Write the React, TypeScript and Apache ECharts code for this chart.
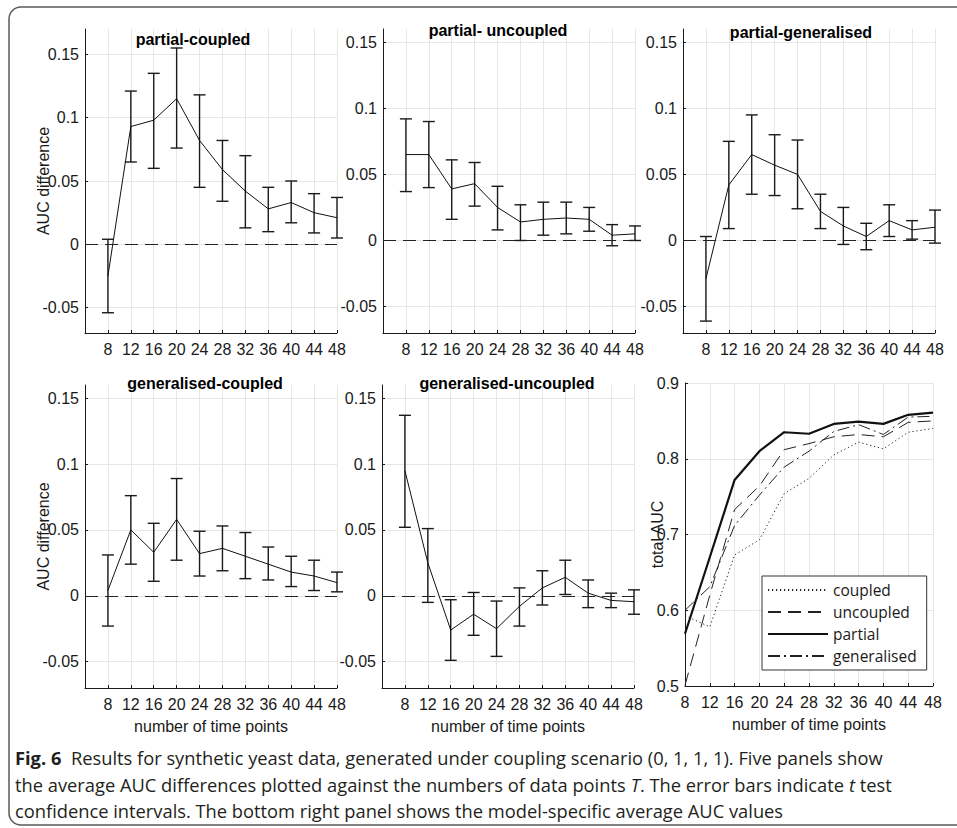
import React, { useEffect, useRef } from 'react';
import * as echarts from 'echarts';

// ---------- data ----------
const timePoints = [8, 12, 16, 20, 24, 28, 32, 36, 40, 44, 48];
const yTicksDiff = [-0.05, 0, 0.05, 0.1, 0.15];
const yTicksTotal = [0.5, 0.6, 0.7, 0.8, 0.9];

const panelTitles = ['partial-coupled', 'partial- uncoupled', 'partial-generalised', 'generalised-coupled', 'generalised-uncoupled'];

const pcMean = [-0.025, 0.093, 0.098, 0.115, 0.082, 0.059, 0.042, 0.028, 0.033, 0.025, 0.021];
const pcUpper = [0.004, 0.121, 0.135, 0.155, 0.118, 0.082, 0.070, 0.045, 0.050, 0.040, 0.037];
const pcLower = [-0.054, 0.065, 0.060, 0.076, 0.045, 0.034, 0.013, 0.010, 0.017, 0.009, 0.005];

const puMean = [0.065, 0.065, 0.039, 0.043, 0.025, 0.014, 0.016, 0.017, 0.016, 0.004, 0.005];
const puUpper = [0.092, 0.090, 0.061, 0.059, 0.041, 0.027, 0.029, 0.029, 0.025, 0.012, 0.011];
const puLower = [0.037, 0.040, 0.016, 0.026, 0.008, 0.000, 0.004, 0.005, 0.007, -0.004, 0.000];

const pgMean = [-0.029, 0.042, 0.065, 0.057, 0.050, 0.022, 0.011, 0.003, 0.015, 0.008, 0.010];
const pgUpper = [0.003, 0.075, 0.095, 0.080, 0.076, 0.035, 0.025, 0.013, 0.027, 0.015, 0.023];
const pgLower = [-0.061, 0.009, 0.035, 0.034, 0.024, 0.009, -0.003, -0.007, 0.003, 0.001, -0.002];

const gcMean = [0.004, 0.050, 0.033, 0.058, 0.032, 0.036, 0.030, 0.024, 0.018, 0.015, 0.010];
const gcUpper = [0.031, 0.076, 0.055, 0.089, 0.049, 0.053, 0.048, 0.037, 0.030, 0.027, 0.018];
const gcLower = [-0.023, 0.024, 0.011, 0.027, 0.015, 0.019, 0.013, 0.012, 0.007, 0.004, 0.003];

const guMean = [0.095, 0.025, -0.026, -0.014, -0.025, -0.008, 0.006, 0.014, 0.002, -0.0035, -0.0045];
const guUpper = [0.137, 0.051, -0.003, 0.0025, -0.004, 0.006, 0.019, 0.027, 0.012, 0.002, 0.0045];
const guLower = [0.052, -0.005, -0.049, -0.030, -0.046, -0.023, -0.007, 0.001, -0.009, -0.009, -0.014];

const totalNames = ['coupled', 'uncoupled', 'partial', 'generalised'];
const totalCoupled = [0.593, 0.578, 0.673, 0.693, 0.754, 0.774, 0.805, 0.822, 0.813, 0.835, 0.840];
const totalUncoupled = [0.501, 0.620, 0.733, 0.764, 0.812, 0.820, 0.829, 0.832, 0.829, 0.848, 0.850];
const totalPartial = [0.569, 0.670, 0.772, 0.810, 0.835, 0.833, 0.846, 0.849, 0.846, 0.858, 0.861];
const totalGeneralised = [0.600, 0.631, 0.712, 0.752, 0.789, 0.810, 0.836, 0.845, 0.832, 0.855, 0.856];

const captionLines = [
  '{b|Fig. 6}  Results for synthetic yeast data, generated under coupling scenario (0, 1, 1, 1). Five panels show',
  'the average AUC differences plotted against the numbers of data points {i|T}. The error bars indicate {i|t} test',
  'confidence intervals. The bottom right panel shows the model-specific average AUC values',
];

// ---------- styling ----------
const FONT = '"Liberation Sans", Arial, sans-serif';
const AX = '#1a1a1a';
const GRID = '#e6e6e6';

const diffPanels = [
  { mean: pcMean, lower: pcLower, upper: pcUpper, yMax: 0.17 },
  { mean: puMean, lower: puLower, upper: puUpper, yMax: 0.16 },
  { mean: pgMean, lower: pgLower, upper: pgUpper, yMax: 0.16 },
  { mean: gcMean, lower: gcLower, upper: gcUpper, yMax: 0.16 },
  { mean: guMean, lower: guLower, upper: guUpper, yMax: 0.16 },
];

const grids = [
  { left: 85, top: 29, width: 252, height: 304 },
  { left: 383, top: 29, width: 252, height: 304 },
  { left: 683, top: 29, width: 252, height: 304 },
  { left: 85, top: 385, width: 252, height: 303 },
  { left: 382, top: 385, width: 252, height: 303 },
  { left: 685, top: 383, width: 248, height: 303 },
];

const titlePos = [
  [193, 39], [498, 30], [801, 32], [205, 383], [507, 383],
];

function xAxisCfg(gridIndex: number, min: number, max: number, showName: boolean) {
  return {
    type: 'value', gridIndex, min, max,
    axisLine: { show: true, onZero: false, lineStyle: { color: AX, width: 1 } },
    axisTick: { show: true, inside: true, length: 3, customValues: timePoints, lineStyle: { color: AX } },
    axisLabel: { customValues: timePoints, fontSize: 16, fontFamily: FONT, color: AX, margin: 8 },
    splitLine: { show: true, lineStyle: { color: GRID, width: 1 } },
    name: showName ? 'number of time points' : '',
    nameLocation: 'middle', nameGap: 30, nameMoveOverlap: false,
    nameTextStyle: { fontSize: 16, fontFamily: FONT, color: AX },
  };
}

function yAxisCfg(gridIndex: number, min: number, max: number, ticks: number[], name: string, nameGap: number) {
  return {
    type: 'value', gridIndex, min, max,
    axisLine: { show: true, onZero: false, lineStyle: { color: AX, width: 1 } },
    axisTick: { show: true, inside: true, length: 3, customValues: ticks, lineStyle: { color: AX } },
    axisLabel: { customValues: ticks, fontSize: 16, fontFamily: FONT, color: AX, margin: 6 },
    splitLine: { show: true, lineStyle: { color: GRID, width: 1 } },
    name, nameLocation: 'middle', nameGap, nameMoveOverlap: false,
    nameTextStyle: { fontSize: 16, fontFamily: FONT, color: AX },
  };
}

function errorBarSeries(idx: number, lower: number[], upper: number[]) {
  return {
    type: 'custom',
    xAxisIndex: idx, yAxisIndex: idx,
    silent: true, z: 3,
    encode: { x: 0, y: [1, 2] },
    data: timePoints.map((t, i) => [t, lower[i], upper[i]]),
    renderItem: (_params: any, api: any) => {
      const x = api.value(0);
      const lo = api.coord([x, api.value(1)]);
      const hi = api.coord([x, api.value(2)]);
      const w = 6;
      const style = { stroke: '#1a1a1a', lineWidth: 1.4, fill: null };
      return {
        type: 'group',
        children: [
          { type: 'line', shape: { x1: lo[0], y1: lo[1], x2: hi[0], y2: hi[1] }, style },
          { type: 'line', shape: { x1: lo[0] - w, y1: lo[1], x2: lo[0] + w, y2: lo[1] }, style },
          { type: 'line', shape: { x1: hi[0] - w, y1: hi[1], x2: hi[0] + w, y2: hi[1] }, style },
        ],
      };
    },
  };
}

function meanSeries(idx: number, mean: number[]) {
  return {
    type: 'line',
    xAxisIndex: idx, yAxisIndex: idx,
    silent: true, symbol: 'none', z: 4,
    data: timePoints.map((t, i) => [t, mean[i]]),
    lineStyle: { color: '#111', width: 1 },
    markLine: {
      silent: true, symbol: 'none',
      label: { show: false },
      lineStyle: { color: '#222', type: [13, 7], width: 1.2 },
      data: [{ yAxis: 0 }],
    },
  };
}

const totalSeriesData = [totalCoupled, totalUncoupled, totalPartial, totalGeneralised];
const totalLineStyles = [
  { color: '#222', width: 1, type: [1.2, 2.8] },
  { color: '#222', width: 1, type: [13, 7] },
  { color: '#111', width: 2.2, type: 'solid' },
  { color: '#222', width: 1, type: [12, 4, 2, 4] },
];

function buildOption() {
  const xAxis: any[] = [];
  const yAxis: any[] = [];
  const series: any[] = [];
  diffPanels.forEach((p, i) => {
    xAxis.push(xAxisCfg(i, 4, 48, i >= 3));
    const yName = i === 0 || i === 3 ? 'AUC difference' : '';
    yAxis.push(yAxisCfg(i, -0.07, p.yMax, yTicksDiff, yName, 34));
    series.push(errorBarSeries(i, p.lower, p.upper));
    series.push(meanSeries(i, p.mean));
  });
  xAxis.push(xAxisCfg(5, 8, 48, true));
  yAxis.push(yAxisCfg(5, 0.5, 0.9, yTicksTotal, 'total AUC', 20));
  totalNames.forEach((name, k) => {
    series.push({
      type: 'line', name,
      xAxisIndex: 5, yAxisIndex: 5,
      silent: true, symbol: 'none',
      data: timePoints.map((t, i) => [t, totalSeriesData[k][i]]),
      lineStyle: totalLineStyles[k],
      itemStyle: { color: '#222' },
    });
  });

  const graphic: any[] = [
    {
      type: 'rect', silent: true, z: 100,
      shape: { x: 9, y: 7, width: 990, height: 818, r: 12 },
      style: { fill: null, stroke: '#5a5a5a', lineWidth: 1.5 },
    },
  ];
  panelTitles.forEach((t, i) => {
    graphic.push({
      type: 'text', silent: true, z: 100,
      x: titlePos[i][0], y: titlePos[i][1],
      style: {
        text: t, fill: '#000', font: `bold 16px ${FONT}`,
        textAlign: 'center', textVerticalAlign: 'middle',
      },
    });
  });
  const capY = [758, 785, 811];
  captionLines.forEach((line, i) => {
    graphic.push({
      type: 'text', silent: true, z: 100,
      x: 15, y: capY[i], scaleX: 1.017,
      style: {
        text: line, fill: '#231f20', font: '18px "Open Sans", sans-serif',
        textAlign: 'left', textVerticalAlign: 'middle',
        rich: {
          b: { fontWeight: 'bold', fontSize: 18, fontFamily: 'Open Sans', fill: '#231f20' },
          i: { fontStyle: 'italic', fontSize: 18, fontFamily: 'Open Sans', fill: '#231f20' },
        },
      },
    });
  });

  return {
    animation: false,
    backgroundColor: '#fff',
    grid: grids.map((g) => ({ ...g, containLabel: false })),
    xAxis, yAxis, series, graphic,
    legend: {
      show: true,
      data: totalNames,
      orient: 'vertical', left: 762, top: 576,
      itemWidth: 60, itemHeight: 14, itemGap: 6,
      padding: [6, 10, 6, 5],
      borderColor: '#333', borderWidth: 1, borderRadius: 0,
      backgroundColor: '#fff',
      itemStyle: { opacity: 0 },
      textStyle: { fontFamily: '"Open Sans", sans-serif', fontSize: 15.5, color: '#1a1a1a' },
      selectedMode: false,
    },
  };
}

export default function App() {
  const ref = useRef<HTMLDivElement>(null);
  useEffect(() => {
    if (!ref.current) return;
    const chart = echarts.init(ref.current, null, { renderer: 'svg' });
    chart.setOption(buildOption() as any);
    return () => chart.dispose();
  }, []);
  return (
    <div
      ref={ref}
      style={{ position: 'absolute', left: 0, top: 0, width: 957, height: 828, background: '#fff' }}
    />
  );
}
